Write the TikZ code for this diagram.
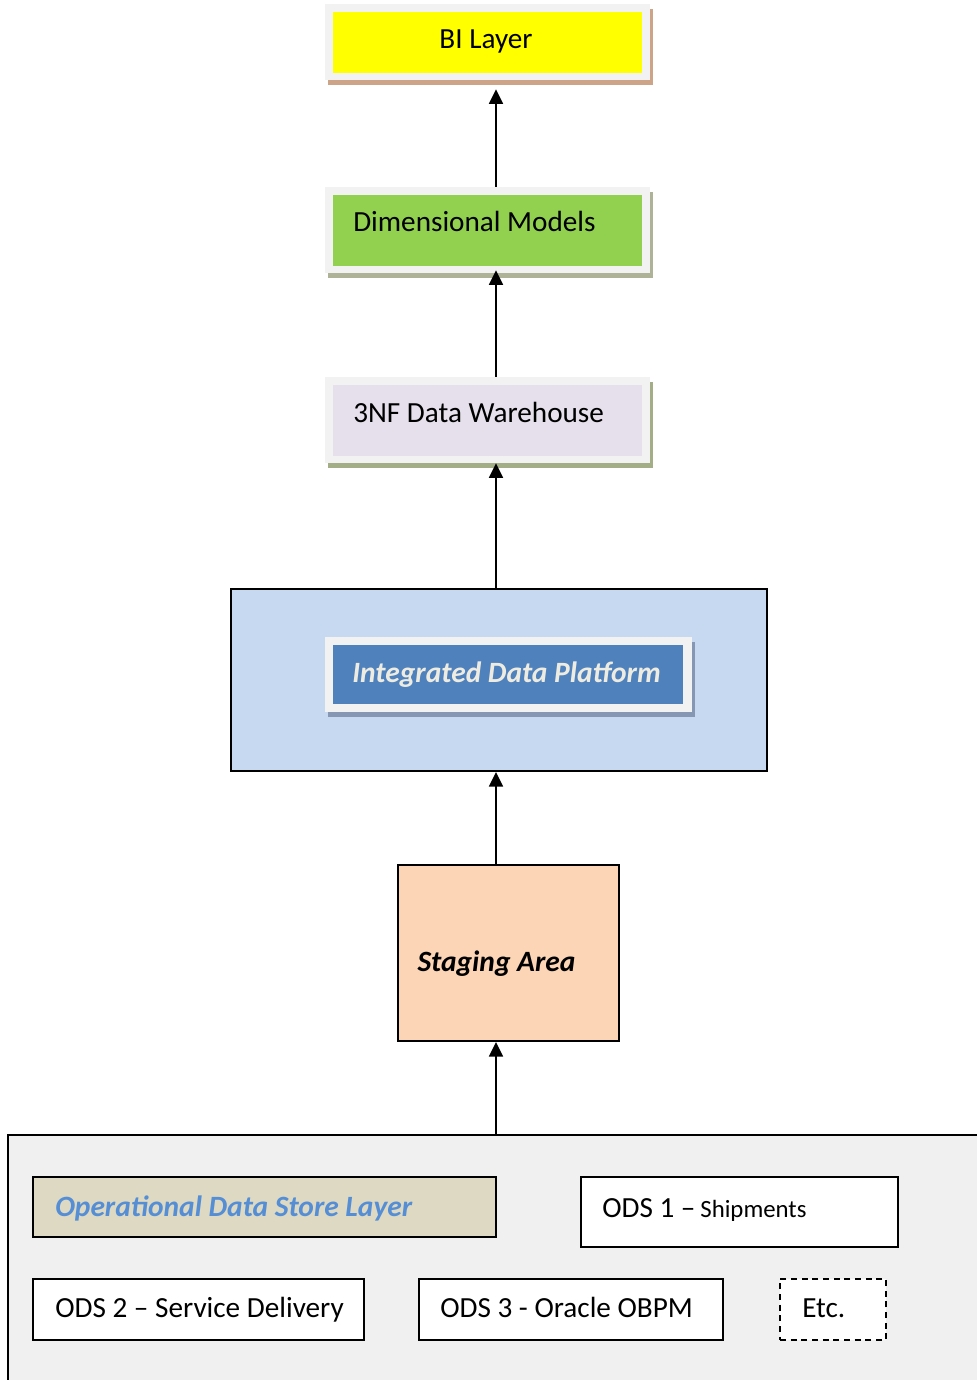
\documentclass[tikz,border=0pt]{standalone}
\usepackage{fontspec}
\setmainfont{Carlito}
\usetikzlibrary{arrows.meta,shadows,calc}
\definecolor{framegray}{HTML}{F2F2F2}
\definecolor{biyellow}{HTML}{FFFF00}
\definecolor{dmgreen}{HTML}{92D050}
\definecolor{nflav}{HTML}{E5E0EC}
\definecolor{idpback}{HTML}{C6D9F1}
\definecolor{idpblue}{HTML}{4F81BD}
\definecolor{idptext}{HTML}{EEECE1}
\definecolor{stagefill}{HTML}{FBD5B5}
\definecolor{odsfill}{HTML}{DDD9C3}
\definecolor{odstext}{HTML}{558ED5}
\definecolor{shbrown}{HTML}{CDA488}
\definecolor{shgreen}{HTML}{AEB296}
\definecolor{sholive}{HTML}{A3AD86}
\definecolor{shblue}{HTML}{8597B2}
\definecolor{contfill}{HTML}{F0F0F0}
\tikzset{
  frame/.style={fill=framegray, draw=none, inner sep=0pt},
  inbox/.style={draw=none, inner sep=0pt},
  txt/.style={inner sep=0pt, font=\fontsize{21.9}{24}\selectfont},
  btxt/.style={inner sep=0pt, font=\fontsize{22.1}{24}\selectfont\bfseries\itshape},
  box/.style={draw=black, line width=1.5pt, inner sep=0pt},
  arr/.style={line width=1.3pt, -{Triangle[width=10.5pt,length=11pt]}},
}
\begin{document}
\begin{tikzpicture}[x=0.75pt,y=-0.75pt]
\useasboundingbox (0,0) rectangle (976,1380);
\coordinate (axis) at (496,0);
% BI layer
\node[frame, minimum width=243.75pt, minimum height=57pt,
  drop shadow={shadow xshift=2.6pt, shadow yshift=-3.75pt, fill=shbrown, opacity=1}] (bi) at (487.5,42) {};
\node[inbox, fill=biyellow, minimum width=231.75pt, minimum height=45.75pt] (biin) at (487.5,42.5) {};
\node[txt, anchor=base] (bitxt) at (486,48.5) {BI Layer};
% Dimensional models
\node[frame, minimum width=243.75pt, minimum height=64.5pt,
  drop shadow={shadow xshift=2.6pt, shadow yshift=-3.75pt, fill=shgreen, opacity=1}] (dm) at (487.5,230) {};
\node[inbox, fill=dmgreen, minimum width=231.75pt, minimum height=53.25pt] (dmin) at (487.5,230.5) {};
\node[txt, anchor=base west] (dmtxt) at (353,231.5) {Dimensional Models};
% 3NF
\node[frame, minimum width=243.75pt, minimum height=64.5pt,
  drop shadow={shadow xshift=2.6pt, shadow yshift=-3.75pt, fill=sholive, opacity=1}] (nf) at (487.5,420) {};
\node[inbox, fill=nflav, minimum width=231.75pt, minimum height=53.25pt] (nfin) at (487.5,420.5) {};
\node[txt, anchor=base west] (nftxt) at (353,422) {3NF Data Warehouse};
% IDP
\node[box, fill=idpback, minimum width=402pt, minimum height=136.5pt] (idp) at (499,680) {};
\node[frame, minimum width=275.25pt, minimum height=56.25pt,
  drop shadow={shadow xshift=2.6pt, shadow yshift=-3.75pt, fill=shblue, opacity=1}] (idpf) at (508.5,674.5) {};
\node[inbox, fill=idpblue, minimum width=262.5pt, minimum height=44.25pt] (idpin) at (508,674.5) {};
\node[btxt, anchor=base west, text=idptext] (idptxt) at (352,682) {Integrated Data Platform};
% Staging
\node[box, fill=stagefill, minimum width=165.75pt, minimum height=132pt] (stg) at (508.5,953) {};
\node[btxt, anchor=base] (stgtxt) at (496.5,971.5) {Staging Area};
% ODS container
\node[box, fill=contfill, minimum width=744pt, minimum height=198.75pt] (cont) at (504,1267.5) {};
\node[box, fill=odsfill, minimum width=347.25pt, minimum height=45pt] (odsl) at (264.5,1207) {};
\node[btxt, anchor=base west, text=odstext] (odsltxt) at (55,1216.5) {Operational Data Store Layer};
\node[box, fill=white, minimum width=237.75pt, minimum height=52.5pt] (ods1) at (739.5,1212) {};
\node[txt, anchor=base west] (ods1txt) at (602,1217) {ODS 1 --\,{\fontsize{18.6}{22}\selectfont Shipments}};
\node[box, fill=white, minimum width=248.25pt, minimum height=45.75pt] (ods2) at (198.5,1309.5) {};
\node[txt, anchor=base west] (ods2txt) at (55,1317.5) {ODS 2 -- Service Delivery};
\node[box, fill=white, minimum width=228pt, minimum height=45.75pt] (ods3) at (571,1309.5) {};
\node[txt, anchor=base west] (ods3txt) at (440,1317.5) {ODS 3 - Oracle OBPM};
\node[box, fill=white, dash pattern=on 4.5pt off 3.5pt, minimum width=79.5pt, minimum height=45.75pt] (etc) at (833,1309.5) {};
\node[txt, anchor=base west] (etctxt) at (802,1317.5) {Etc.};
% arrows
\draw[arr] (dm.north -| axis) -- ($(bi.south -| axis)+(0,9)$);
\draw[arr] (nf.north -| axis) -- ($(dm.south -| axis)+(0,-3)$);
\draw[arr] (idp.north -| axis) -- (nf.south -| axis);
\draw[arr] (stg.north -| axis) -- (idp.south -| axis);
\draw[arr] (cont.north -| axis) -- (stg.south -| axis);
\end{tikzpicture}
\end{document}
